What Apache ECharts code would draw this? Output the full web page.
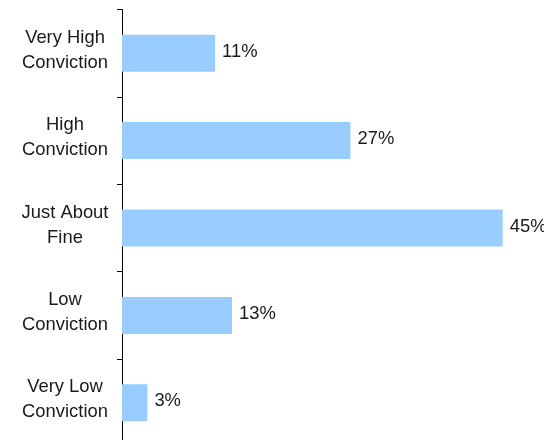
<!DOCTYPE html>
<html>
<head>
<meta charset="utf-8">
<script src="https://cdn.jsdelivr.net/npm/echarts@6/dist/echarts.min.js"></script>
<style>
  html, body { margin: 0; padding: 0; background: #ffffff; }
  #chart { width: 544px; height: 440px; }
</style>
</head>
<body>
<div id="chart"></div>
<script>
// Conviction levels, listed top to bottom
const categories = [
  'Very High\nConviction',
  'High\nConviction',
  'Just About\nFine',
  'Low\nConviction',
  'Very Low\nConviction'
];
// Share of responses (%)
const shares = [11, 27, 45, 13, 3];

const chart = echarts.init(document.getElementById('chart'), null, { renderer: 'canvas' });
const font = '"Liberation Sans", Arial, Helvetica, sans-serif';

chart.setOption({
  animation: false,
  backgroundColor: '#ffffff',
  // plot area runs slightly past the bottom edge of the canvas
  grid: {
    left: 122, width: 423, top: 9.5, height: 437,
    containLabel: false,
    outerBoundsMode: 'none'
  },
  xAxis: {
    type: 'value',
    min: 0,
    max: 50,
    show: false
  },
  yAxis: {
    type: 'category',
    data: categories,
    inverse: true,
    axisLine: { show: true, lineStyle: { color: '#000000', width: 1 } },
    axisTick: { show: true, length: 5, inside: false, lineStyle: { color: '#000000', width: 1 } },
    axisLabel: {
      color: '#1a1a1a',
      fontFamily: font,
      fontSize: 18.4,
      lineHeight: 25,
      align: 'center',
      margin: 57,
      // a short empty trailing line lifts the two-line label a little
      formatter: v => v.split('\n').map(s => '{t|' + s + '}').join('\n') + '\n{gap|}',
      rich: {
        t: { fontFamily: font, fontSize: 18.4, lineHeight: 25, color: '#1a1a1a' },
        gap: { fontSize: 1, lineHeight: 6 }
      }
    },
    splitLine: { show: false }
  },
  series: [{
    type: 'bar',
    data: shares,
    barWidth: 37,
    itemStyle: { color: '#99ccff' },
    label: {
      show: true,
      position: 'right',
      distance: 7,
      color: '#1a1a1a',
      fontFamily: font,
      fontSize: 18.4,
      formatter: p => '{v|' + p.value + '%}\n{gap|}',
      rich: {
        v: { fontFamily: font, fontSize: 18.4, lineHeight: 22, color: '#1a1a1a' },
        gap: { fontSize: 1, lineHeight: 3 }
      }
    }
  }]
});
</script>
</body>
</html>
